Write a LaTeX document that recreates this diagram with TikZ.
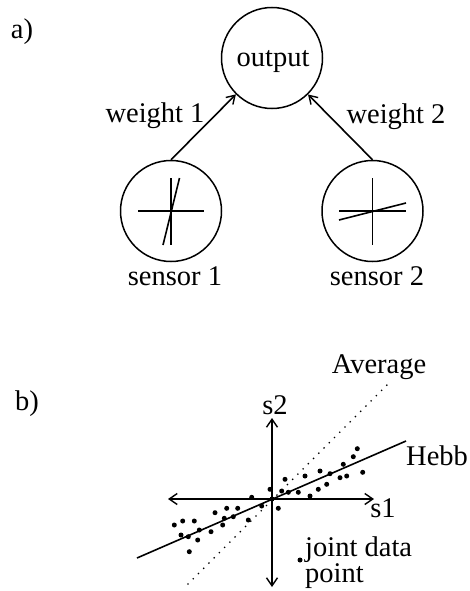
\documentclass[tikz,border=0pt]{standalone}
\usepackage{fontspec}
\setmainfont{Liberation Serif}
\usetikzlibrary{arrows.meta}
\tikzset{
  lbl/.style={font=\fontsize{28.5}{24}\selectfont, inner sep=0pt, anchor=base},
  unit/.style={draw, circle, minimum size=101pt, inner sep=0pt, line width=1.5pt},
  ln/.style={line width=1.6pt},
  barb/.style={-{Straight Barb[length=8pt,width=10pt,line width=1.4pt]}},
  dbarb/.style={{Straight Barb[length=8pt,width=11pt,line width=1.4pt]}-{Straight Barb[length=8pt,width=11pt,line width=1.4pt]}},
  pt/.style={fill, circle, minimum size=5pt, inner sep=0pt},
  avg/.style={line width=1.9pt, line cap=round, dash pattern=on 0pt off 7.4pt}
}
\begin{document}
\begin{tikzpicture}[x=1pt,y=-1pt]
\useasboundingbox (0,0) rectangle (470,591);
% panel a
\node[lbl] (la) at (22,39) {a)};
\node[unit] (out) at (272,58) {};
\node[lbl] (outt) at (273,67) {output};
\node[unit] (s1) at (171,211) {};
\node[unit] (s2) at (372.5,211) {};
\draw[ln,barb] (s1.north) -- (out);
\draw[ln,barb] (s2.north) -- (out);
\node[lbl] (w1) at (155,122) {weight 1};
\node[lbl] (w2) at (396,124) {weight 2};
\node[lbl] (sl1) at (175,285) {sensor 1};
\node[lbl] (sl2) at (377,285) {sensor 2};
% sensor 1 glyph
\draw[ln] (138,211) -- (204,211);
\draw[ln] (171,178) -- (171,245);
\draw[ln] (179.5,178) -- (163,245);
% sensor 2 glyph
\draw[ln] (339,211) -- (406,211);
\draw[ln] (372.5,178) -- (372.5,245);
\draw[ln] (339,220) -- (406,203);
% panel b
\node[lbl] (lb) at (27,410) {b)};
\coordinate (o) at (272,499);
\coordinate (xl) at (168,499);
\coordinate (xr) at (374,499);
\coordinate (yt) at (272,418);
\coordinate (yb) at (272,587);
\draw[ln,dbarb] (xl) -- (xr);
\draw[ln,dbarb] (yb) -- (yt);
\coordinate (h1) at (137,558);
\coordinate (h2) at (406,441);
\draw[ln] (h1) -- (h2);
\coordinate (a1) at (188,584);
\coordinate (a2) at (392,380);
\draw[avg] (a1) -- (a2);
\node[lbl] (ls2) at (275,414) {s2};
\node[lbl] (ls1) at (383,517) {s1};
\node[lbl, anchor=base west] (hebb) at (406,465) {Hebb};
\node[lbl] (avgl) at (379,373) {Average};
\node[lbl, anchor=base west, align=left] (jdp) at (305,582) {joint data\\point};
\node[pt] (jd) at (300,560) {};
% data points
\foreach \x/\y [count=\i] in {174.3/525,182.7/521,194.3/521,181/535,188.3/536.7,199.3/530,197.7/540,189.3/551.7,211/531.7,215/512.7,226.7/508.3,237.7/508.3,224.3/518.3,222.7/525,233.3/516.7,248.3/520,251.7/497.3,261.7/506,270/489.3,278.3/508.3,285/479.3,281.7/491,288.3/492.3,298.3/492.3,305/476,310/496,318.3/489.3,320/471,326.7/484.3,330/473.7,340/477.7,346.7/476,343.3/464.3,353.3/456.7,357.3/448.7,362.7/472.3,272/499}
  \node[pt] (d\i) at (\x,\y) {};
\end{tikzpicture}
\end{document}
